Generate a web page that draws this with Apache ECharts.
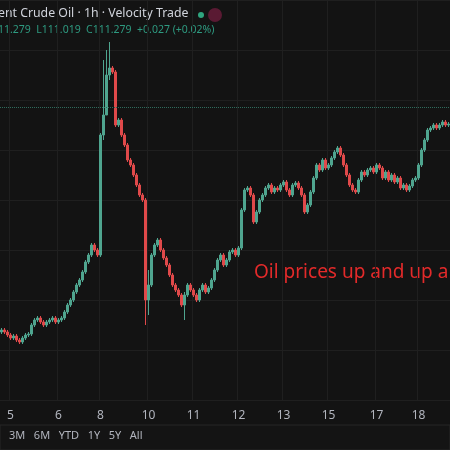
<!DOCTYPE html>
<html><head><meta charset="utf-8">
<script src="https://cdn.jsdelivr.net/npm/echarts@6/dist/echarts.min.js"></script>
<style>html,body{margin:0;background:#131313}#c{width:450px;height:450px}</style>
</head><body><div id="c"></div>
<script>
// closing prices per hourly bar
const closes = [
  70,68,65,62,64,60,58,62,65,66,
  75,80,82,78,75,78,80,82,78,80,
  82,88,95,100,108,115,120,128,138,145,
  155,150,145,265,285,325,332,328,275,280,
  265,255,240,235,225,215,205,200,100,115,
  145,155,160,150,142,135,125,115,110,105,
  95,105,115,110,105,100,110,115,108,112,
  120,130,140,145,135,140,148,150,145,152,
  190,210,212,205,178,188,200,205,212,215,
  208,212,210,215,218,210,205,215,217,212,
  205,188,195,208,222,235,230,240,232,235,
  242,248,252,245,235,225,215,210,208,220,
  228,225,230,232,228,235,232,222,228,220,
  225,218,222,212,215,210,214,220,222,235,
  250,260,270,272,275,272,275,278,275,276
]
// bars with long wicks: index -> [low, high]
const wicks = { 34: [260, 340], 35: [300, 350], 36: [320, 358], 48: [75, 202], 61: [80, 108], 49: [85, 130] }
const dayLabels = { 3: '5', 19: '6', 33: '8', 49: '10', 64: '11', 79: '12', 94: '13', 109: '15', 125: '17', 139: '18' }

const cats = closes.map((_, i) => i)
const ohlc = closes.map((c, i) => {
  const o = i === 0 ? c - 2 : closes[i - 1]
  let lo = Math.min(o, c) - 2, hi = Math.max(o, c) + 2
  if (wicks[i]) { lo = wicks[i][0]; hi = wicks[i][1] }
  return [o, c, lo, hi]
})

const chart = echarts.init(document.getElementById('c'))
chart.setOption({
  backgroundColor: '#131313',
  animation: false,
  grid: { left: 0, right: 0, top: 0, bottom: 50 },
  xAxis: {
    type: 'category', data: cats, boundaryGap: true,
    axisLine: { show: false }, axisTick: { show: false },
    axisLabel: {
      interval: (i) => dayLabels[i] !== undefined,
      formatter: (v) => dayLabels[v] || '',
      color: '#b2b5be', fontSize: 12, fontFamily: 'Noto Sans', margin: 10
    },
    splitLine: { show: true, interval: (i) => dayLabels[i] !== undefined, lineStyle: { color: '#1f1f1f' } }
  },
  yAxis: {
    type: 'value', min: 0, max: 400, interval: 50, show: true,
    axisLabel: { show: false }, axisLine: { show: false }, axisTick: { show: false },
    splitLine: { lineStyle: { color: '#1f1f1f' } }
  },
  series: [{
    type: 'candlestick', data: ohlc, barWidth: 2,
    itemStyle: { color: '#4fa58f', color0: '#e0494a', borderColor: '#4fa58f', borderColor0: '#e0494a', borderWidth: 1 },
    markLine: {
      symbol: 'none', silent: true, label: { show: false },
      lineStyle: { color: '#2f6b5c', type: 'dotted', width: 1 },
      data: [{ yAxis: 293 }]
    }
  }],
  graphic: [
    { type: 'rect', shape: { x: 0, y: 425, width: 450, height: 25 }, style: { fill: '#141414', stroke: '#262626' } },
    { type: 'text', left: -2, top: 7, style: { text: 'ent Crude Oil · 1h · Velocity Trade', fill: '#d1d4dc', fontSize: 12.3, fontFamily: 'Noto Sans' } },
    { type: 'circle', shape: { cx: 201, cy: 15, r: 3 }, style: { fill: '#2fa57f' } },
    { type: 'rect', shape: { x: 208, y: 8, width: 14, height: 14, r: 7 }, style: { fill: '#5a1a33' } },
    { type: 'text', left: -2, top: 25, style: { text: '11.279  L111.019  C111.279  +0.027 (+0.02%)', fill: '#2e9a80', fontSize: 10.5, fontFamily: 'Noto Sans' } },
    { type: 'text', left: 254, top: 263, style: { text: 'Oil prices up and up a', fill: '#e32a2a', fontSize: 19, fontFamily: 'Noto Sans' } },
    { type: 'text', left: 9, top: 430, style: { text: '3M   6M   YTD   1Y   5Y   All', fill: '#b2b5be', fontSize: 11, fontFamily: 'Noto Sans' } }
  ]
})
</script></body></html>
